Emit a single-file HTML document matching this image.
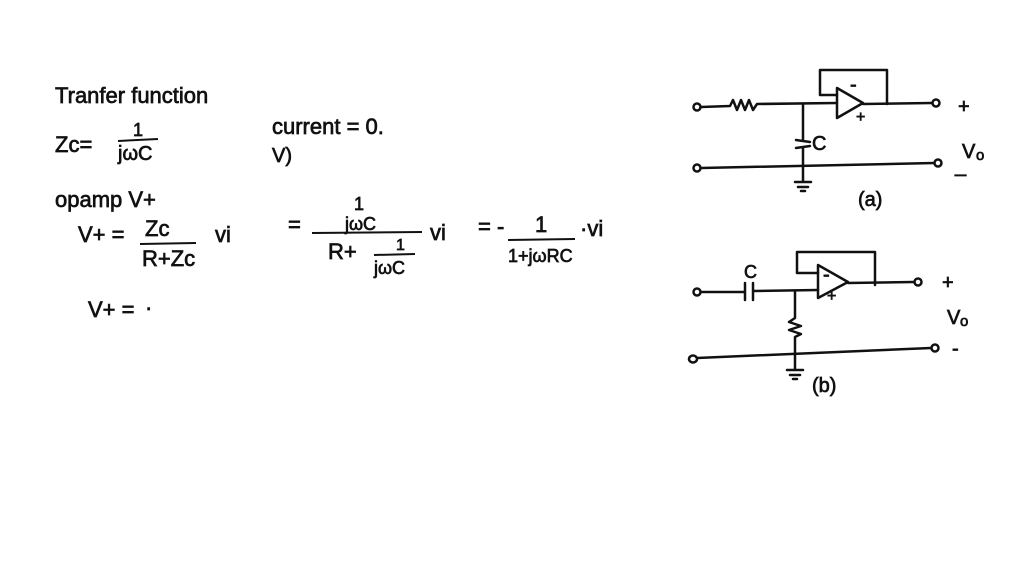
<!DOCTYPE html>
<html><head><style>
html,body{margin:0;padding:0;background:#fff;}
svg{display:block}
text{font-family:"Liberation Sans",sans-serif;fill:#111;stroke:#111;stroke-width:0.7;}
</style></head><body>
<svg width="1024" height="576" viewBox="0 0 1024 576" xmlns="http://www.w3.org/2000/svg">
<rect width="1024" height="576" fill="#fff"/>
<g font-size="22">
<text x="55" y="103">Tranfer function</text>
<text x="55" y="152">Zc=</text>
<text x="133" y="136" font-size="18">1</text>
<line x1="118" y1="141" x2="158" y2="139" stroke="#111" stroke-width="2"/>
<text x="118" y="160" font-size="20">jωC</text>
<text x="272" y="134">current = 0.</text>
<text x="272" y="162" font-size="20">V)</text>
<text x="55" y="207">opamp V+</text>
<text x="78" y="242">V+ =</text>
<text x="145" y="236">Zc</text>
<line x1="140" y1="244" x2="196" y2="243" stroke="#111" stroke-width="2"/>
<text x="142" y="266">R+Zc</text>
<text x="215" y="242">vi</text>
<text x="288" y="232">=</text>
<text x="354" y="210" font-size="18">1</text>
<text x="345" y="230" font-size="18">jωC</text>
<line x1="312" y1="233" x2="422" y2="232" stroke="#111" stroke-width="2"/>
<text x="328" y="259">R+</text>
<text x="396" y="250" font-size="16">1</text>
<line x1="374" y1="255" x2="415" y2="254" stroke="#111" stroke-width="2"/>
<text x="374" y="274" font-size="18">jωC</text>
<text x="430" y="240">vi</text>
<text x="478" y="234">= -</text>
<text x="535" y="232">1</text>
<line x1="508" y1="240" x2="575" y2="239" stroke="#111" stroke-width="2"/>
<text x="508" y="262" font-size="18">1+jωRC</text>
<text x="580" y="236">·vi</text>
<text x="88" y="317">V+ =</text>
<text x="145" y="315">·</text>
</g>
<g fill="none" stroke="#111" stroke-width="2.5" stroke-linecap="round" stroke-linejoin="round">
<circle cx="697" cy="107" r="3.5"/>
<path d="M701 107 L730 106 L733 100 L737 110 L741 100 L745 110 L749 100 L753 110 L757 104 L837 103"/>
<path d="M837 88 L863 103 L837 118 Z"/>
<path d="M837 95 L820 95 L820 70 L887 70 L887 104"/>
<path d="M863 104 L932 103"/>
<circle cx="936" cy="103" r="3.5"/>
<path d="M803 104 L803 140 M796 140 L810 142 M796 148 L810 146 M803 147 L803 182 M795 182 L811 182 M798 187 L808 187 M801 191 L805 191"/>
<circle cx="697" cy="168" r="3.5"/>
<path d="M701 168 L934 163"/>
<circle cx="938" cy="163" r="3.5"/>
<circle cx="697" cy="292" r="3.5"/>
<path d="M701 292 L745 292 M745 283 L745 300 M753 283 L753 300 M753 291 L818 290"/>
<path d="M818 265 L848 282 L818 298 Z"/>
<path d="M818 273 L797 273 L797 252 L875 252 L875 285"/>
<path d="M848 283 L914 282"/>
<circle cx="918" cy="282" r="3.5"/>
<path d="M795 291 L795 318 L789 322 L801 326 L789 330 L801 334 L795 337 L795 370 M787 370 L803 370 M790 375 L800 375 M793 379 L797 379"/>
<ellipse cx="693" cy="359" rx="4" ry="3.5"/>
<path d="M697 358 L931 348"/>
<circle cx="935" cy="348" r="3.5"/>
</g>
<g font-size="20">
<text x="850" y="91">-</text>
<text x="856" y="122" font-size="16">+</text>
<text x="812" y="150">C</text>
<text x="958" y="113">+</text>
<text x="962" y="158">V</text><text x="976" y="160" font-size="15">o</text>
<text x="955" y="172">_</text>
<text x="858" y="206">(a)</text>
<text x="823" y="281">-</text>
<text x="827" y="301" font-size="16">+</text>
<text x="744" y="278" font-size="18">C</text>
<text x="942" y="289">+</text>
<text x="947" y="324">V</text><text x="960" y="326" font-size="15">o</text>
<text x="952" y="355">-</text>
<text x="812" y="392">(b)</text>
</g>
</svg>
</body></html>
